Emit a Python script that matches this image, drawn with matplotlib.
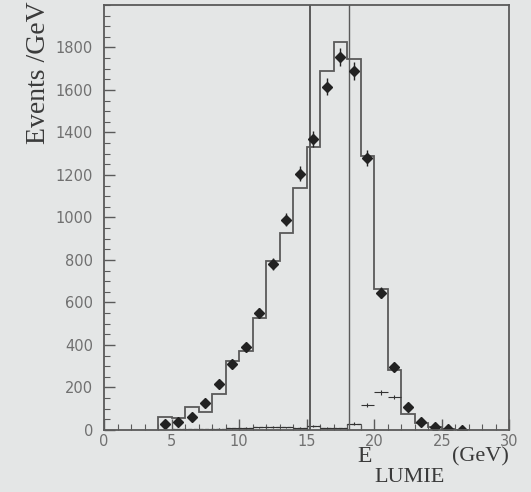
import numpy as np
import matplotlib.pyplot as plt
from matplotlib.ticker import MultipleLocator

# MC histogram, 1 GeV bins starting at 4 GeV
mc_edges = [4, 5, 6, 7, 8, 9, 10, 11, 12, 13, 14, 15, 16, 17, 18, 19, 20,
            21, 22, 23, 24, 25, 26, 27]
mc_counts = [60, 55, 110, 85, 170, 325, 370, 525, 795, 925, 1140, 1330,
             1690, 1825, 1745, 1290, 665, 280, 75, 35, 15, 5, 2]

# data points at bin centres
data_x = [4.5, 5.5, 6.5, 7.5, 8.5, 9.5, 10.5, 11.5, 12.5, 13.5, 14.5, 15.5,
          16.5, 17.5, 18.5, 19.5, 20.5, 21.5, 22.5, 23.5, 24.5, 25.5, 26.5]
data_y = [28, 40, 60, 125, 215, 310, 390, 550, 780, 990, 1205, 1368,
          1615, 1753, 1688, 1280, 645, 298, 108, 38, 14, 3, 0]
data_err = [6, 7, 9, 12, 15, 18, 20, 24, 28, 32, 35, 38,
            41, 42, 42, 36, 26, 17, 10, 6, 4, 2, 2]

# small background component (crosses)
bkg_x = [5.5, 6.5, 7.5, 8.5, 9.5, 10.5, 11.5, 12.5, 13.5, 14.5, 15.5, 16.5,
         17.5, 18.5, 19.5, 20.5, 21.5]
bkg_y = [3, 4, 5, 6, 8, 10, 12, 14, 12, 10, 20, 10, 8, 30, 118, 178, 155]
bkg_err = [2, 2, 2, 3, 3, 3, 4, 4, 4, 3, 5, 4, 3, 6, 10, 12, 11]

# cut positions
cuts = [15.25, 18.15]
cut_widths = [1.4, 1.0]

bg = "#e4e6e6"
ink = "#5a5a5a"

fig = plt.figure(figsize=(5.31, 4.92), dpi=100)
fig.patch.set_facecolor(bg)
ax = fig.add_axes([0.196, 0.126, 0.763, 0.864])
ax.set_facecolor(bg)

ax.stairs(mc_counts, mc_edges, color=ink, lw=1.3)
ax.stairs(bkg_y[:14], [b - 0.5 for b in bkg_x[:14]] + [bkg_x[13] + 0.5],
          color=ink, lw=0.9, ls=(0, (3, 1.5)))

ax.errorbar(data_x, data_y, yerr=data_err, fmt="D", ms=5.5, color="#222222",
            ecolor="#222222", elinewidth=1.0, capsize=0)
ax.errorbar(bkg_x, bkg_y, xerr=0.5, yerr=bkg_err, fmt="none", ecolor="#333333",
            elinewidth=0.8, capsize=0)

for c, w in zip(cuts, cut_widths):
    ax.axvline(c, color=ink, lw=w)

ax.set_xlim(0, 30)
ax.set_ylim(0, 2000)
ax.xaxis.set_major_locator(MultipleLocator(5))
ax.xaxis.set_minor_locator(MultipleLocator(1))
ax.yaxis.set_minor_locator(MultipleLocator(50))
ax.set_yticks([0, 200, 400, 600, 800, 1000, 1200, 1400, 1600, 1800])
ax.tick_params(which="both", direction="in", top=False, right=False,
               color=ink, labelcolor="#707070", labelsize=10.5)
ax.tick_params(which="major", length=8, width=1.0)
ax.tick_params(which="minor", length=4, width=0.8)
ax.tick_params(axis="x", pad=3)
ax.tick_params(axis="y", pad=8)
for s in ax.spines.values():
    s.set_color(ink)
    s.set_linewidth(1.3)

serif = ["Liberation Serif", "DejaVu Serif"]
ax.set_ylabel("Events /GeV", family=serif, fontsize=20, color="#3a3a3a")
ax.yaxis.set_label_coords(-0.13, 0.84)
fig.text(0.686, 0.072, "E", family=serif, fontsize=17, color="#3a3a3a",
         ha="center", va="center")
fig.text(0.772, 0.030, "LUMIE", family=serif, fontsize=16, color="#3a3a3a",
         ha="center", va="center")
fig.text(0.905, 0.072, "(GeV)", family=serif, fontsize=16, color="#3a3a3a",
         ha="center", va="center")

fig.savefig("out.png", dpi=100, facecolor=bg)
